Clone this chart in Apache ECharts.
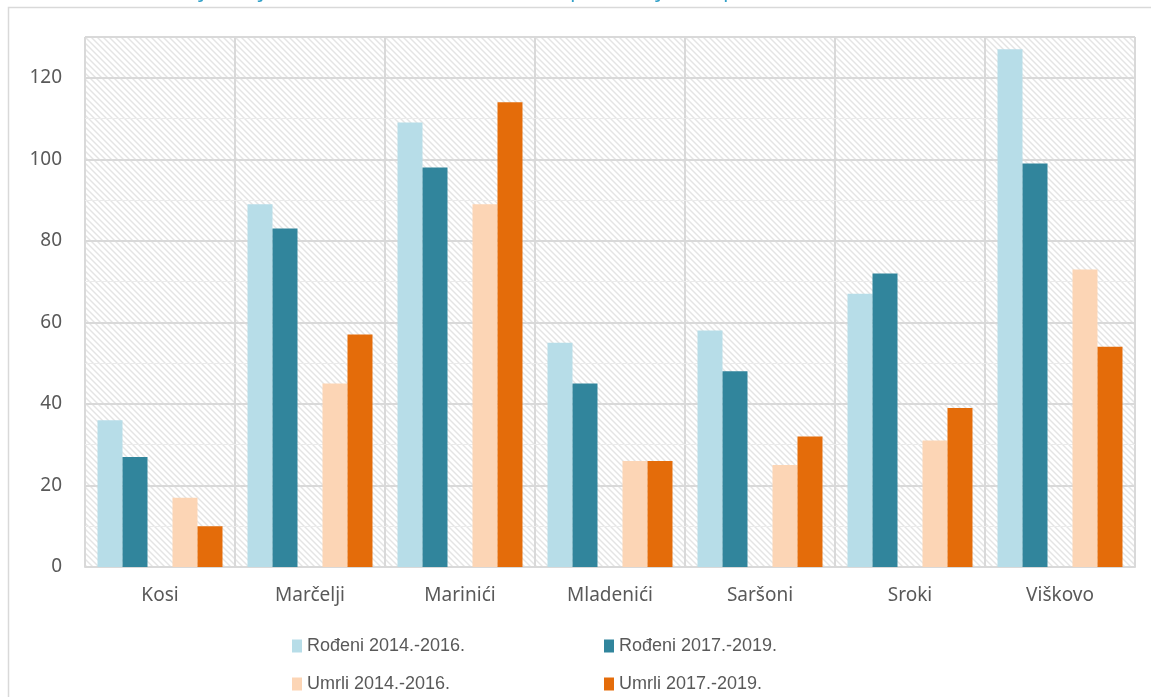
<!DOCTYPE html>
<html>
<head>
<meta charset="utf-8">
<script src="https://cdn.jsdelivr.net/npm/echarts@6/dist/echarts.min.js"></script>
<style>
  html, body { margin: 0; padding: 0; background: #fff; }
  #chart { width: 1151px; height: 697px; }
</style>
</head>
<body>
<div id="chart"></div>
<script>
const categories = ['Kosi', 'Marčelji', 'Marinići', 'Mladenići', 'Saršoni', 'Sroki', 'Viškovo']
const rodeni1416 = [36, 89, 109, 55, 58, 67, 127]
const rodeni1719 = [27, 83, 98, 45, 48, 72, 99]
const umrli1416 = [17, 45, 89, 26, 25, 31, 73]
const umrli1719 = [10, 57, 114, 26, 32, 39, 54]
const seriesNames = ['Rođeni 2014.-2016.', 'Rođeni 2017.-2019.', 'Umrli 2014.-2016.', 'Umrli 2017.-2019.']
const yMin = 0
const yMax = 130
const yStep = 20

// uzorak šrafure za pozadinu grafa (dijagonala prema dolje)
const makeHatch = () => {
  const size = 6
  const c = document.createElement('canvas')
  c.width = size
  c.height = size
  const ctx = c.getContext('2d')
  ctx.fillStyle = '#ffffff'
  ctx.fillRect(0, 0, size, size)
  ctx.strokeStyle = '#e4e4e4'
  ctx.lineWidth = 1.4
  for (const off of [-size, 0, size]) {
    ctx.beginPath()
    ctx.moveTo(off - 1, -1)
    ctx.lineTo(off + size + 1, size + 1)
    ctx.stroke()
  }
  return c
}

const colors = ['#b7dde8', '#31859c', '#fcd5b5', '#e46c0a']
const textColor = '#595959'
const gridColor = '#d9d9d9'

const legendPos = [
  { left: 287, top: 632 },
  { left: 599, top: 632 },
  { left: 287, top: 670 },
  { left: 599, top: 670 }
]

const option = {
  animation: false,
  backgroundColor: '#ffffff',
  title: {
    text: 'Grafikon 3: Kretanje broja rođenih i umrlih stanovnika po naseljima Općine Viškovo',
    left: 8,
    top: -25,
    textStyle: {
      color: '#31a0c8',
      fontFamily: 'Open Sans',
      fontSize: 22,
      fontWeight: 'normal'
    }
  },
  graphic: [
    {
      type: 'rect',
      shape: { x: 8.5, y: 7.5, width: 1200, height: 800 },
      style: { fill: 'none', stroke: gridColor, lineWidth: 1.5 },
      silent: true,
      z: -10
    }
  ],
  legend: legendPos.map((p, i) => ({
    left: p.left,
    top: p.top,
    data: [seriesNames[i]],
    icon: 'rect',
    itemWidth: 10,
    itemHeight: 13,
    selectedMode: false,
    textStyle: {
      color: textColor,
      fontFamily: 'Liberation Sans',
      fontSize: 18
    }
  })),
  grid: {
    left: 85,
    right: 16,
    top: 37,
    bottom: 130,
    show: true,
    borderWidth: 0,
    backgroundColor: { image: makeHatch(), repeat: 'repeat' }
  },
  xAxis: {
    type: 'category',
    data: categories,
    axisTick: { show: false },
    axisLine: { lineStyle: { color: gridColor, width: 2 } },
    splitLine: { show: true, lineStyle: { color: gridColor, width: 2 } },
    axisLabel: {
      color: textColor,
      fontFamily: 'Noto Sans',
      fontSize: 19,
      margin: 19
    }
  },
  yAxis: [
    {
      type: 'value',
      min: yMin,
      max: yMax,
      interval: yStep,
      z: 2,
      axisLine: { show: false },
      axisTick: { show: false },
      splitLine: { lineStyle: { color: gridColor, width: 2 } },
      axisLabel: {
        showMaxLabel: false,
        color: textColor,
        fontFamily: 'Noto Sans',
        fontSize: 19,
        margin: 23
      }
    },
    {
      type: 'value',
      min: yMin,
      max: yMax,
      interval: yStep / 2,
      z: 1,
      axisLine: { show: false },
      axisTick: { show: false },
      axisLabel: { show: false },
      splitLine: { lineStyle: { color: '#ebebeb', width: 1 } }
    }
  ],
  series: [
    { name: seriesNames[0], type: 'bar', data: rodeni1416, itemStyle: { color: colors[0] }, barGap: '0%', barCategoryGap: '16.67%' },
    { name: seriesNames[1], type: 'bar', data: rodeni1719, itemStyle: { color: colors[1] } },
    { name: 'razmak', type: 'bar', data: categories.map(() => null) },
    { name: seriesNames[2], type: 'bar', data: umrli1416, itemStyle: { color: colors[2] } },
    { name: seriesNames[3], type: 'bar', data: umrli1719, itemStyle: { color: colors[3] } }
  ]
}

const myChart = echarts.init(document.getElementById('chart'))
option && myChart.setOption(option)
</script>
</body>
</html>
